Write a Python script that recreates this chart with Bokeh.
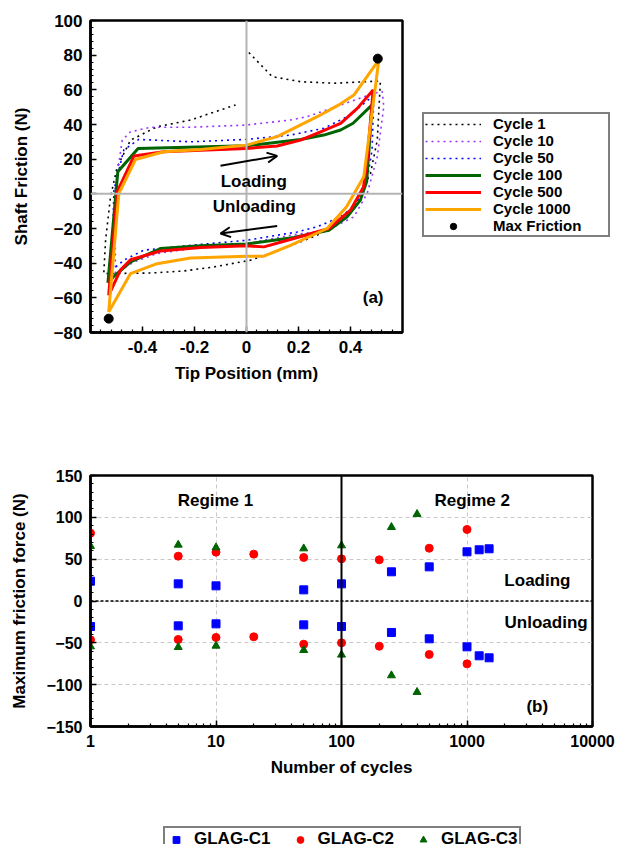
from bokeh.plotting import figure
from bokeh.models import (Span, Legend, LegendItem, Arrow, OpenHead, Label,
                          SingleIntervalTicker, LogTicker, NumeralTickFormatter,
                          CustomJSTickFormatter)
from bokeh.layouts import column, row
from bokeh.embed import file_html
from bokeh.resources import INLINE

FONT = "Liberation Sans"
NAN = float("nan")

# ---------------- Panel (a) data ----------------
cycle1_x = [0.009, 0.099, 0.208, 0.336, 0.515, 0.503, 0.477, 0.426, 0.38, 0.27, 0.1, 0.015,
            -0.126, -0.241, -0.369, -0.549, -0.542, -0.523, -0.497, -0.446, -0.344, -0.215, -0.042]
cycle1_y = [81.5, 67.6, 64.7, 63.8, 65.1, 31, 11.8, -3.6, -14, -24, -34, -38.3,
            -42.2, -44.5, -45.7, -46, -26.8, -1.7, 15.6, 31, 38.7, 42.6, 51.3]

cycle10_x = [-0.504, -0.506, -0.478, -0.446, -0.369, -0.215, 0, 0.169, 0.233, 0.4, 0.49, 0.522,
             0.528, 0.503, 0.464, 0.413, 0.31, 0.169, 0, -0.215, -0.344, -0.433, -0.504]
cycle10_y = [-46, 2, 31, 35.8, 38.4, 38.4, 39.7, 42.6, 44.5, 53.2, 58, 59,
             50.3, 21.4, 0.2, -13.3, -21, -23.9, -28.7, -31.6, -34.5, -39.3, -46]

cycle50_x = [-0.517, -0.51, -0.472, -0.414, -0.215, 0, 0.169, 0.297, 0.4, 0.49,
             0.483, 0.464, 0.426, 0.362, 0.272, 0.195, 0, -0.215, -0.395, -0.472, -0.517]
cycle50_y = [-44, 2, 25.3, 31.4, 30, 31.4, 33.9, 37.8, 45.5, 57,
             25.3, 7.9, -5.5, -13.3, -19, -22, -26.8, -29.7, -32.5, -38.3, -44]

cycle100_x = [-0.533, -0.495, -0.417, 0, 0.208, 0.297, 0.362, 0.41, 0.483, 0.471, 0.462,
              0.438, 0.387, 0.317, 0.182, 0, -0.177, -0.331, -0.446, -0.51, -0.533]
cycle100_y = [-51.4, 12.7, 26.2, 27.7, 31.4, 33.9, 36.8, 40.7, 51.3, 25.3, 6.9,
              -3.6, -13.3, -21, -25.2, -29, -30, -31.6, -39.3, -47.6, -51.4]

cycle500_x = [-0.53, -0.497, -0.433, -0.318, -0.177, 0, 0.118, 0.208, 0.285, 0.362, 0.426, 0.487,
              0.464, 0.45, 0.4, 0.317, 0.182, 0.067, 0, -0.177, -0.331, -0.446, -0.485, -0.53]
cycle500_y = [-58.6, 1.2, 21.8, 24.3, 25.2, 26.2, 27.6, 31, 35.8, 40.7, 49.3, 59.9,
              19.5, 4, -9.4, -20, -25.8, -30.6, -30, -31, -33, -38, -44, -58.6]

cycle1000_x = [-0.53, -0.491, -0.427, -0.318, -0.177, 0, 0.118, 0.272, 0.355, 0.413, 0.509,
               0.451, 0.385, 0.31, 0.169, 0.067, 0, -0.215, -0.344, -0.446, -0.53]
cycle1000_y = [-68.2, 0.2, 19.8, 24.3, 25.6, 28.1, 33, 44.5, 51.3, 57, 77.3,
               9.8, -7.5, -20, -29.7, -36, -36, -37, -40.3, -46, -68.2]

maxf_x = [0.505, -0.53]
maxf_y = [78, -72]

load_arrow = [-0.10, 16.2, 0.118, 21.9]     # x0, y0, x1, y1
unload_arrow = [0.118, -18.5, -0.10, -22.9]

series_a = ["Cycle 1", "Cycle 10", "Cycle 50", "Cycle 100", "Cycle 500", "Cycle 1000"]
colors_a = ["black", "#9933ff", "#0000ff", "#006400", "#ff0000", "#ffa500"]

# ---------------- Panel (b) data ----------------
c1_load_n = [1, 5, 10, 50, 100, 250, 500, 1000, 1250, 1500]
c1_load_f = [23.7, 20.5, 18.1, 13.3, 20.5, 34.9, 40.8, 58.8, 61.2, 62.4]
c1_unload_n = [1, 5, 10, 50, 100, 250, 500, 1000, 1250, 1500]
c1_unload_f = [-30.5, -29.7, -27.3, -28.5, -30.5, -37.6, -45.2, -54.8, -65.5, -67.9]

c2_load_n = [1, 5, 10, 20, 50, 100, 200, 500, 1000]
c2_load_f = [81.1, 53.6, 58.4, 56.0, 52.0, 50.4, 49.2, 63.1, 85.5]
c2_unload_n = [1, 5, 10, 20, 50, 100, 200, 500, 1000]
c2_unload_f = [-46.4, -46.0, -43.6, -42.8, -51.6, -50.0, -54.0, -63.9, -75.1]

c3_load_n = [1, 5, 10, 50, 100, 250, 400]
c3_load_f = [65.5, 67.1, 63.9, 62.7, 66.3, 88.2, 103.8]
c3_unload_n = [1, 5, 10, 50, 100, 250, 400]
c3_unload_f = [-54.4, -55.2, -53.6, -58.8, -64.3, -89.0, -108.9]

series_b = ["GLAG-C1", "GLAG-C2", "GLAG-C3"]
markers_b = ["square", "circle", "triangle"]
colors_b = ["#0000ff", "#ff0000", "#006400"]

regime_boundary = 100


def style_axes(p, tick_size, label_size):
    for ax in p.axis:
        ax.axis_line_width = 2.5
        ax.axis_line_color = "black"
        ax.major_tick_in = 6
        ax.major_tick_out = 0
        ax.minor_tick_in = 3
        ax.minor_tick_out = 0
        ax.major_tick_line_width = 1.5
        ax.minor_tick_line_width = 1.2
        ax.major_label_text_font = FONT
        ax.major_label_text_font_style = "bold"
        ax.major_label_text_font_size = tick_size
        ax.major_label_text_color = "black"
        ax.axis_label_text_font = FONT
        ax.axis_label_text_font_style = "bold"
        ax.axis_label_text_font_size = label_size
        ax.axis_label_text_color = "black"
        ax.major_label_standoff = 8
    p.outline_line_color = "black"
    p.outline_line_width = 2.5
    p.outline_line_alpha = 1


def legend_figure(fw, fh, left, top, right, bottom):
    f = figure(frame_width=fw, frame_height=fh, output_backend="svg", toolbar_location=None,
               min_border_left=left, min_border_top=top, min_border_right=right,
               min_border_bottom=bottom, x_range=(0, 1), y_range=(0, 1))
    f.axis.visible = False
    f.grid.visible = False
    f.outline_line_color = None
    return f


def style_legend(leg, size):
    leg.label_text_font = FONT
    leg.label_text_font_style = "bold"
    leg.label_text_font_size = size
    leg.label_text_color = "black"
    leg.border_line_color = "black"
    leg.border_line_width = 2
    leg.margin = 0


# ---------------- Figure (a) ----------------
p1 = figure(frame_width=312, frame_height=312, x_range=(-0.6, 0.6), y_range=(-80, 100),
            output_backend="svg", toolbar_location=None,
            min_border_left=90, min_border_top=20, min_border_bottom=70, min_border_right=10)
p1.grid.visible = False
p1.xaxis.ticker = SingleIntervalTicker(interval=0.2, num_minor_ticks=5)
p1.yaxis.ticker = SingleIntervalTicker(interval=20, num_minor_ticks=5)
p1.xaxis.formatter = CustomJSTickFormatter(code="return Number(tick.toFixed(2)).toString();")
p1.xaxis.axis_label = "Tip Position (mm)"
p1.yaxis.axis_label = "Shaft Friction (N)"
style_axes(p1, "17px", "17px")
p1.xaxis.axis_label_standoff = 8
p1.yaxis.axis_label_standoff = 20

p1.add_layout(Span(location=0, dimension="width", line_color="#b4b4b4", line_width=2))
p1.add_layout(Span(location=0, dimension="height", line_color="#b4b4b4", line_width=2))

cycles = [(cycle1_x, cycle1_y), (cycle10_x, cycle10_y), (cycle50_x, cycle50_y),
          (cycle100_x, cycle100_y), (cycle500_x, cycle500_y), (cycle1000_x, cycle1000_y)]
for i, (cx, cy) in enumerate(cycles):
    if i < 3:
        p1.line(cx, cy, line_color=colors_a[i], line_width=1.6, line_dash="2 4")
    else:
        p1.line(cx, cy, line_color=colors_a[i], line_width=3)
p1.scatter(maxf_x, maxf_y, marker="circle", size=9, fill_color="black", line_color="black")

for a in (load_arrow, unload_arrow):
    p1.add_layout(Arrow(end=OpenHead(size=10, line_width=2, line_color="black"),
                        x_start=a[0], y_start=a[1], x_end=a[2], y_end=a[3],
                        line_width=2, line_color="black"))

for txt, x, y in (("Loading", 0.028, 6.9), ("Unloading", 0.03, -7.5), ("(a)", 0.487, -60)):
    p1.add_layout(Label(x=x, y=y, text=txt, text_font=FONT, text_font_style="bold",
                        text_font_size="17px", text_align="center", text_baseline="middle",
                        text_color="black"))

# legend for (a): its own canvas to the right of the plot (keys only, no data drawn)
la = legend_figure(206, 312, 0, 20, 0, 70)
items_a = []
for i, name in enumerate(series_a):
    if i < 3:
        r = la.line([NAN], [NAN], line_color=colors_a[i], line_width=1.6, line_dash="2 4")
    else:
        r = la.line([NAN], [NAN], line_color=colors_a[i], line_width=3)
    items_a.append(LegendItem(label=name, renderers=[r]))
rm = la.scatter([NAN], [NAN], marker="circle", size=8, fill_color="black", line_color="black")
items_a.append(LegendItem(label="Max Friction", renderers=[rm]))
leg1 = Legend(items=items_a, location=(10, 95))
style_legend(leg1, "15px")
leg1.label_height = 16
leg1.glyph_height = 16
leg1.glyph_width = 56
leg1.label_width = 114
leg1.label_standoff = 12
leg1.spacing = 0
leg1.padding = 1
la.add_layout(leg1)

# ---------------- Figure (b) ----------------
p2 = figure(frame_width=502, frame_height=251, x_range=(1, 10000), y_range=(-150, 150),
            x_axis_type="log", output_backend="svg", toolbar_location=None,
            min_border_left=90, min_border_top=73, min_border_bottom=60, min_border_right=26)
p2.xaxis.ticker = LogTicker(num_minor_ticks=10)
p2.xaxis.formatter = NumeralTickFormatter(format="0")
p2.yaxis.ticker = SingleIntervalTicker(interval=50, num_minor_ticks=5)
p2.xaxis.axis_label = "Number of cycles"
p2.yaxis.axis_label = "Maximum friction force (N)"
style_axes(p2, "16px", "17px")
p2.xaxis.axis_label_standoff = 8
p2.yaxis.axis_label_standoff = 14
for g in p2.grid:
    g.grid_line_color = "#c8c8c8"
    g.grid_line_dash = "4 3"
    g.grid_line_width = 1

p2.add_layout(Span(location=0, dimension="width", line_color="black", line_width=1.5,
                   line_dash="3 2"))
p2.add_layout(Span(location=regime_boundary, dimension="height", line_color="black",
                   line_width=2))

pts_b = [(c1_load_n + c1_unload_n, c1_load_f + c1_unload_f),
         (c2_load_n + c2_unload_n, c2_load_f + c2_unload_f),
         (c3_load_n + c3_unload_n, c3_load_f + c3_unload_f)]
for i, (nx, fy) in enumerate(pts_b):
    p2.scatter(nx, fy, marker=markers_b[i], size=8, fill_color=colors_b[i],
               line_color=colors_b[i])

for txt, x, y in (("Regime 1", 9.9, 120), ("Regime 2", 1100, 120), ("Loading", 3640, 24.5),
                  ("Unloading", 4270, -26), ("(b)", 3630, -126)):
    p2.add_layout(Label(x=x, y=y, text=txt, text_font=FONT, text_font_style="bold",
                        text_font_size="17px",
                        text_align="center", text_baseline="middle", text_color="black"))

# legend for (b): its own strip under the plot, cut by the page edge like the original
lb = legend_figure(618, 58, 0, 0, 0, 0)
items_b = []
for i, name in enumerate(series_b):
    r = lb.scatter([NAN], [NAN], marker=markers_b[i], size=8, fill_color=colors_b[i],
                   line_color=colors_b[i])
    items_b.append(LegendItem(label=name, renderers=[r]))
leg2 = Legend(items=items_b, orientation="horizontal", location=(163, -8))
style_legend(leg2, "17px")
leg2.label_height = 17
leg2.glyph_height = 17
leg2.glyph_width = 20
leg2.label_standoff = 8
leg2.spacing = 19
leg2.padding = 1
lb.add_layout(leg2)

layout = column(row(p1, la, spacing=0), p2, lb, spacing=0)
open("out.html", "w").write(file_html(layout, INLINE))
